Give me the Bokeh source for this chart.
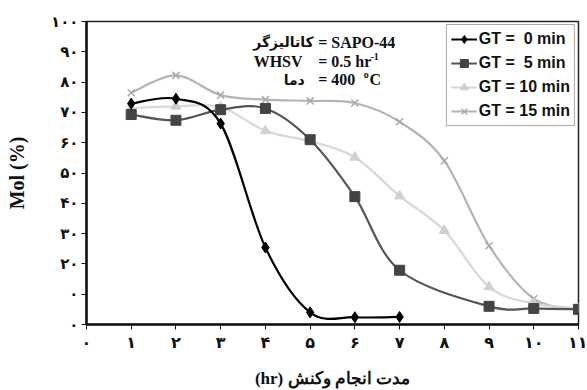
import numpy as np
from bokeh.plotting import figure
from bokeh.models import Range1d, Label, Legend, LegendItem, FixedTicker
from bokeh.embed import file_html
from bokeh.resources import INLINE

# ---------------- data ----------------
hours_gt0 = [1, 2, 3, 4, 5, 6, 7]
mol_gt0 = [72.9, 74.5, 66.3, 25.4, 4.0, 2.4, 2.5]

hours_gt5 = [1, 2, 3, 4, 5, 6, 7, 9, 10, 11]
mol_gt5 = [69.3, 67.4, 70.9, 71.3, 61.0, 42.2, 17.9, 6.0, 5.3, 5.0]

hours_gt10 = [1, 2, 3, 4, 5, 6, 7, 8, 9, 10, 11]
mol_gt10 = [71.4, 72.0, 71.8, 63.9, 60.5, 55.2, 42.4, 31.0, 12.4, 6.9, 5.2]

hours_gt15 = [1, 2, 3, 4, 5, 6, 7, 8, 9, 10, 11]
mol_gt15 = [76.5, 82.2, 75.7, 74.2, 73.8, 73.1, 66.9, 54.0, 26.0, 8.5, 5.2]

series_labels = ["GT =  0 min", "GT =  5 min", "GT = 10 min", "GT = 15 min"]

x_ticks = list(range(0, 12))
x_tick_labels = ["۰", "۱", "۲", "۳", "۴", "۵", "۶", "۷", "۸", "۹", "۱۰", "۱۱"]
y_ticks = [0, 10, 20, 30, 40, 50, 60, 70, 80, 90, 100]
y_tick_labels = ["۰", "۰", "۲۰", "۳۰", "۴۰", "۵۰", "۶۰", "۷۰", "۸۰", "۹۰", "۱۰۰"]

x_title = "(hr) مدت انجام وکنش"
y_title = "Mol (%)"


def bezier_segments(xs, ys):
    P = np.column_stack([xs, ys]).astype(float)
    n = len(P)
    out = {k: [] for k in ["x0", "y0", "x1", "y1", "cx0", "cy0", "cx1", "cy1"]}
    for i in range(n - 1):
        pm = P[i - 1] if i > 0 else P[i]
        pp = P[i + 2] if i + 2 < n else P[i + 1]
        c0 = P[i] + (P[i + 1] - pm) / 6.0
        c1 = P[i + 1] - (pp - P[i]) / 6.0
        out["x0"].append(P[i][0]); out["y0"].append(P[i][1])
        out["x1"].append(P[i + 1][0]); out["y1"].append(P[i + 1][1])
        out["cx0"].append(c0[0]); out["cy0"].append(c0[1])
        out["cx1"].append(c1[0]); out["cy1"].append(c1[1])
    return out


p = figure(width=587, height=390, output_backend="svg", toolbar_location=None,
           x_range=Range1d(0, 11), y_range=Range1d(0, 100),
           min_border_left=86, min_border_right=9, min_border_top=21, min_border_bottom=65)
p.xgrid.visible = False
p.ygrid.visible = False
p.outline_line_color = "#222222"
p.outline_line_width = 1.5
p.background_fill_color = "white"
p.border_fill_color = "white"

for ax in (p.xaxis, p.yaxis):
    ax.axis_line_width = 2.5
    ax.axis_line_color = "#111111"
    ax.major_tick_line_color = "#111111"
    ax.major_tick_line_width = 1
    ax.major_tick_out = 5
    ax.major_tick_in = 0
    ax.minor_tick_line_color = None
    ax.major_label_text_font = "DejaVu Sans"
    ax.major_label_text_font_style = "bold"
    ax.major_label_text_color = "#111111"

p.xaxis.ticker = FixedTicker(ticks=x_ticks)
p.yaxis.ticker = FixedTicker(ticks=y_ticks)
p.xaxis.major_label_overrides = {t: l for t, l in zip(x_ticks, x_tick_labels)}
p.yaxis.major_label_overrides = {t: l for t, l in zip(y_ticks, y_tick_labels)}
p.xaxis.major_label_text_font_size = "16px"
p.yaxis.major_label_text_font_size = "15px"
p.xaxis.major_label_standoff = 3
p.yaxis.major_label_standoff = 3

p.xaxis.axis_label = x_title
p.xaxis.axis_label_text_font = "Liberation Serif"
p.xaxis.axis_label_text_font_style = "bold"
p.xaxis.axis_label_text_font_size = "17px"
p.xaxis.axis_label_standoff = 14
p.xaxis.axis_label_text_color = "#111111"

p.yaxis.axis_label = y_title
p.yaxis.axis_label_text_font = "Liberation Serif"
p.yaxis.axis_label_text_font_style = "bold"
p.yaxis.axis_label_text_font_size = "20px"
p.yaxis.axis_label_standoff = 20
p.yaxis.axis_label_text_color = "#111111"

styles = [
    (hours_gt15, mol_gt15, "#b4b4b4", "x", 10, "#a8a8a8"),
    (hours_gt10, mol_gt10, "#d8d8d8", "triangle", 10, "#d0d0d0"),
    (hours_gt5, mol_gt5, "#555555", "square", 10, "#444444"),
    (hours_gt0, mol_gt0, "#000000", "diamond", 11, "#000000"),
]
labels_in_order = [series_labels[3], series_labels[2], series_labels[1], series_labels[0]]

items = {}
for (xs, ys, lc, mk, ms, mc), lab_ in zip(styles, labels_in_order):
    seg = bezier_segments(xs, ys)
    b = p.bezier(x0=seg["x0"], y0=seg["y0"], x1=seg["x1"], y1=seg["y1"],
                 cx0=seg["cx0"], cy0=seg["cy0"], cx1=seg["cx1"], cy1=seg["cy1"],
                 line_color=lc, line_width=2.2)
    if mk == "x":
        s = p.scatter(xs, ys, marker=mk, size=ms, line_color=mc, line_width=1.5)
    else:
        s = p.scatter(xs, ys, marker=mk, size=ms, fill_color=mc, line_color=mc)
    items[lab_] = [b, s]

legend = Legend(items=[LegendItem(label=l, renderers=items[l]) for l in series_labels],
                location="top_right")
legend.label_text_font = "Liberation Sans"
legend.label_text_font_style = "bold"
legend.label_text_font_size = "16px"
legend.label_text_color = "#111111"
legend.glyph_width = 26
legend.glyph_height = 20
legend.label_height = 20
legend.spacing = 4
legend.padding = 4
legend.margin = 3
legend.label_standoff = 2
legend.border_line_color = "#555555"
legend.border_line_width = 1.5
legend.background_fill_alpha = 1
p.add_layout(legend)

# annotation block (positioned in data units)
def lab(txt, x, y, font, size, align="left", style="bold"):
    p.add_layout(Label(x=x, y=y, text=txt,
                       text_font=font, text_font_size=size, text_font_style=style,
                       text_align=align, text_baseline="middle", text_color="#111111"))

lab("کاتالیزگر", 5.08, 93.1, "DejaVu Sans", "14px", align="right")
lab("WHSV", 4.83, 86.8, "Liberation Serif", "16px", align="right")
lab("دما", 4.88, 80.8, "DejaVu Sans", "14px", align="right")
lab("= SAPO-44", 5.18, 93.1, "Liberation Serif", "16px")
lab("= 0.5 hr", 5.18, 86.8, "Liberation Serif", "16px")
lab("-1", 6.35, 88.6, "Liberation Serif", "10px")
lab("= 400", 5.18, 80.8, "Liberation Serif", "16px")
lab("o", 6.2, 82.6, "Liberation Serif", "10px")
lab("C", 6.33, 80.8, "Liberation Serif", "16px")

open("out.html", "w").write(file_html(p, INLINE))
